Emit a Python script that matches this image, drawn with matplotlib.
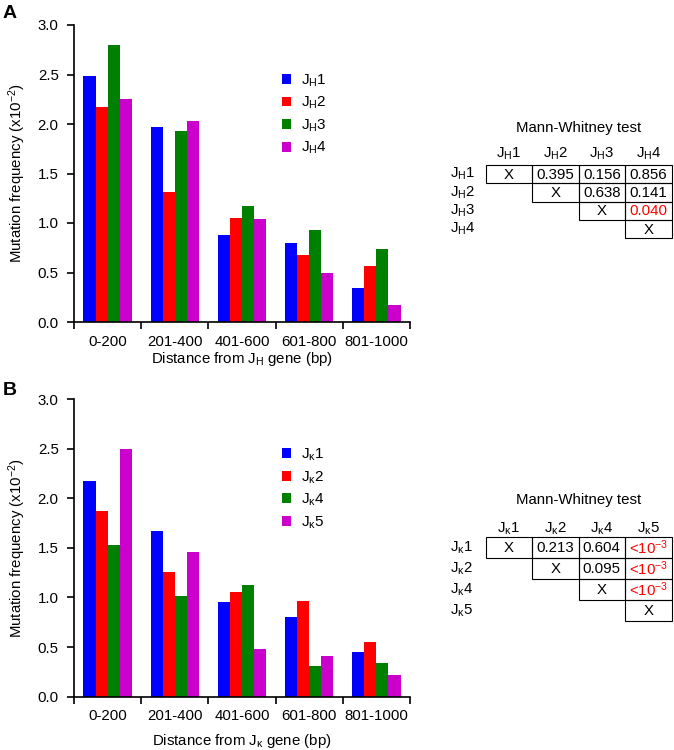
import numpy as np
import matplotlib.pyplot as plt
from matplotlib.patches import Rectangle

plt.rcParams['font.family'] = ['Liberation Sans', 'DejaVu Sans']
plt.rcParams['mathtext.default'] = 'regular'
plt.rcParams['font.size'] = 10.8

# distance bins shared by both panels
groups = ['0-200', '201-400', '401-600', '601-800', '801-1000']
colors = ['#0000ff', '#ff0000', '#008000', '#cc00cc']

# panel A: heavy chain J segments (mutation frequency x10^-2)
jh_labels = ['J$_H$1', 'J$_H$2', 'J$_H$3', 'J$_H$4']
jh1 = [2.48, 1.97, 0.875, 0.80, 0.34]
jh2 = [2.17, 1.31, 1.05, 0.68, 0.57]
jh3 = [2.80, 1.93, 1.175, 0.93, 0.74]
jh4 = [2.25, 2.03, 1.04, 0.49, 0.175]

# panel B: kappa J segments
jk_labels = ['J$_κ$1', 'J$_κ$2', 'J$_κ$4', 'J$_κ$5']
jk1 = [2.17, 1.67, 0.95, 0.80, 0.45]
jk2 = [1.87, 1.26, 1.06, 0.96, 0.55]
jk4 = [1.53, 1.01, 1.13, 0.31, 0.34]
jk5 = [2.50, 1.455, 0.48, 0.41, 0.215]

# Mann-Whitney p-values (upper triangle, row by row)
jh_pvals = [['X', '0.395', '0.156', '0.856'],
            ['X', '0.638', '0.141'],
            ['X', '0.040'],
            ['X']]
jh_signif = [(2, 3)]
jk_pvals = [['X', '0.213', '0.604', '<10$^{-3}$'],
            ['X', '0.095', '<10$^{-3}$'],
            ['X', '<10$^{-3}$'],
            ['X']]
jk_signif = [(0, 3), (1, 3), (2, 3)]


def bar_panel(ax, series, labels, xlabel, xlabelpad):
    x = np.arange(len(groups))
    w = 0.18
    for k, (vals, lab, c) in enumerate(zip(series, labels, colors)):
        ax.bar(x + (k - 1.5) * w, vals, w, color=c, label=lab, linewidth=0)
    ax.set_xlim(-0.5, len(groups) - 0.5)
    ax.set_ylim(0, 3.0)
    yt = np.arange(0, 3.01, 0.5)
    ax.set_yticks(yt)
    ax.set_yticklabels([f'{v:.1f}' for v in yt])
    # ticks between the groups, labels under the group centres
    ax.set_xticks(np.arange(-0.5, len(groups)))
    ax.set_xticklabels([])
    ax.set_xticks(x, minor=True)
    ax.set_xticklabels(groups, minor=True)
    ax.tick_params(axis='x', which='minor', length=0, pad=9)
    ax.tick_params(axis='both', which='major', direction='out', length=5, width=1.2)
    ax.tick_params(axis='y', pad=6)
    for s in ['top', 'right']:
        ax.spines[s].set_visible(False)
    for s in ['left', 'bottom']:
        ax.spines[s].set_linewidth(1.2)
    ax.set_ylabel('Mutation frequency (x10$^{-2}$)', labelpad=7)
    ax.set_xlabel(xlabel, labelpad=xlabelpad)
    ax.legend(loc='upper left', bbox_to_anchor=(0.62, 0.84), frameon=False,
              handlelength=0.6, handleheight=0.6, handletextpad=0.6,
              labelspacing=0.4, borderaxespad=0, borderpad=0, fontsize=11)


def draw_table(ax, labels, pvals, signif, top, row_h, head_gap):
    col_x = [485.5, 532, 578.5, 625, 671.5]
    ax.text(579, top - 37, 'Mann-Whitney test', ha='center', va='center')
    for j, lab in enumerate(labels):
        ax.text((col_x[j] + col_x[j + 1]) / 2, top - head_gap, lab,
                ha='center', va='center')
    for i, row in enumerate(pvals):
        y0 = top + i * row_h
        ax.text(450, y0 + row_h / 2, labels[i], ha='left', va='center')
        for k, val in enumerate(row):
            j = i + k
            ax.add_patch(Rectangle((col_x[j], y0), col_x[j + 1] - col_x[j], row_h,
                                   fill=False, lw=0.8, ec='black'))
            c = '#ff0000' if (i, j) in signif else 'black'
            ax.text((col_x[j] + col_x[j + 1]) / 2, y0 + row_h / 2 + 0.5, val,
                    ha='center', va='center', color=c)


fig = plt.figure(figsize=(6.74, 7.5), dpi=100)

ax1 = fig.add_axes([74 / 674, 1 - 322 / 750, 336 / 674, 297 / 750])
bar_panel(ax1, [jh1, jh2, jh3, jh4], jh_labels, 'Distance from J$_H$ gene (bp)', 1)

ax2 = fig.add_axes([74 / 674, 1 - 696.7 / 750, 336 / 674, 297.7 / 750])
bar_panel(ax2, [jk1, jk2, jk4, jk5], jk_labels, 'Distance from J$_κ$ gene (bp)', 6)

# overlay in pixel coordinates for the test tables
ov = fig.add_axes([0, 0, 1, 1])
ov.set_xlim(0, 674)
ov.set_ylim(750, 0)
ov.axis('off')
draw_table(ov, jh_labels, jh_pvals, jh_signif, 165, 18.3, 11)
draw_table(ov, jk_labels, jk_pvals, jk_signif, 537, 21, 8)

fig.text(0.004, 1 - 5 / 750, 'A', fontsize=14, weight='bold', va='top')
fig.text(0.004, 1 - 382 / 750, 'B', fontsize=14, weight='bold', va='top')

fig.savefig('out.png', dpi=100)
